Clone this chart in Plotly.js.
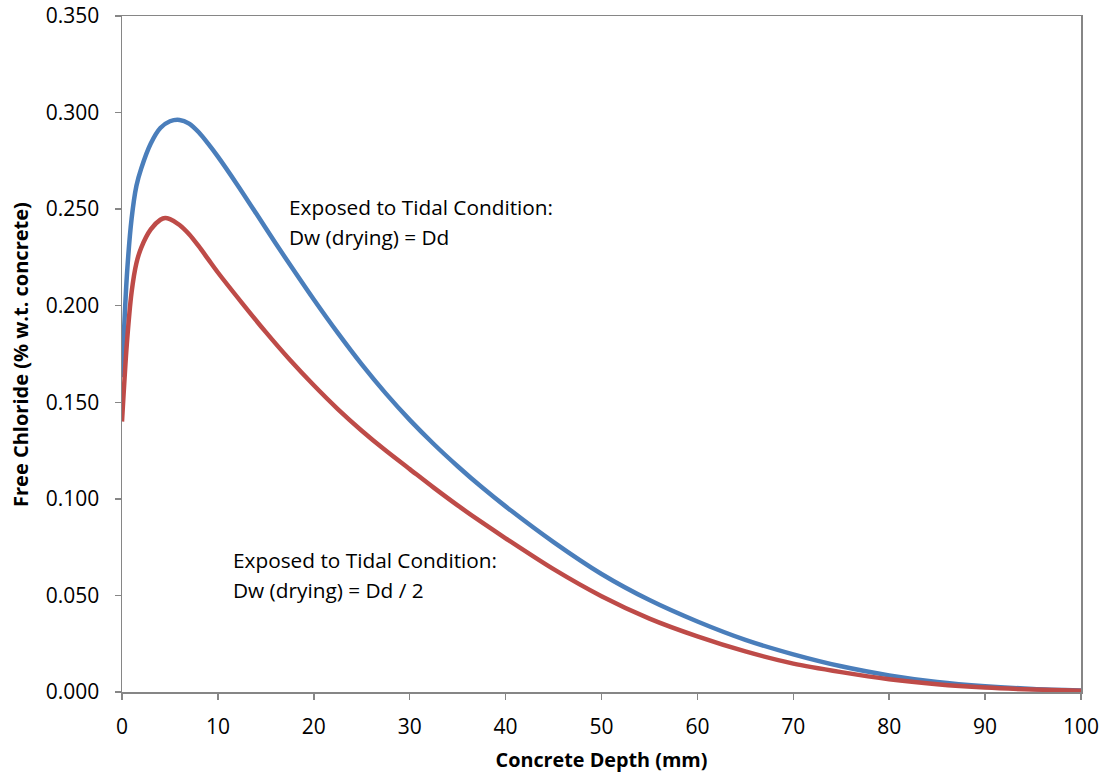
<!DOCTYPE html>
<html>
<head>
<meta charset="utf-8">
<script src="https://cdn.plot.ly/plotly-3.0.1.min.js"></script>
<style>html,body{margin:0;padding:0;background:#fff;}#chart{width:1109px;height:773px;}</style>
</head>
<body>
<div id="chart"></div>
<script>
const depthEqual = [0, 0.5, 1, 1.5, 2, 3, 4, 5, 6, 7, 8, 9, 10, 12, 14, 16, 18, 20, 22.5, 25, 27.5, 30, 32.5, 35, 37.5, 40, 45, 50, 55, 60, 65, 70, 75, 80, 85, 90, 95, 100];
const chlorideEqual = [0.163, 0.215, 0.245, 0.262, 0.271, 0.284, 0.292, 0.2955, 0.2962, 0.2943, 0.2898, 0.2838, 0.2772, 0.2628, 0.2477, 0.2325, 0.2177, 0.2032, 0.1859, 0.1696, 0.1546, 0.1409, 0.1284, 0.1169, 0.1061, 0.0961, 0.0776, 0.0611, 0.0476, 0.0365, 0.027, 0.0195, 0.0133, 0.0086, 0.0052, 0.003, 0.0016, 0.0008];

const depthHalf = [0, 0.5, 1, 1.5, 2, 3, 4, 4.5, 5, 6, 7, 8, 9, 10, 12.5, 15, 17.5, 20, 22.5, 25, 27.5, 30, 32.5, 35, 37.5, 40, 45, 50, 55, 60, 65, 70, 75, 80, 85, 90, 95, 100];
const chlorideHalf = [0.140, 0.180, 0.207, 0.222, 0.230, 0.2395, 0.2445, 0.2454, 0.2448, 0.2418, 0.237, 0.2308, 0.224, 0.2172, 0.2015, 0.1863, 0.172, 0.1588, 0.1465, 0.1353, 0.125, 0.1154, 0.1058, 0.0966, 0.0879, 0.0796, 0.0636, 0.0496, 0.038, 0.0288, 0.021, 0.0147, 0.0103, 0.0066, 0.004, 0.0023, 0.0013, 0.0007];

const xTicks = [0, 10, 20, 30, 40, 50, 60, 70, 80, 90, 100];
const yTicks = [0, 0.05, 0.10, 0.15, 0.20, 0.25, 0.30, 0.35];
const yTickText = ["0.000", "0.050", "0.100", "0.150", "0.200", "0.250", "0.300", "0.350"];

const labelEqual = ["Exposed to Tidal Condition:", "Dw (drying) = Dd"];
const labelHalf = ["Exposed to Tidal Condition:", "Dw (drying) = Dd / 2"];
const xTitle = "Concrete Depth (mm)";
const yTitle = "Free Chloride (% w.t. concrete)";

const font = "Open Sans, Liberation Sans, sans-serif";

const traces = [
  {x: depthEqual, y: chlorideEqual, mode: "lines", line: {color: "#4a7ebb", width: 4.5, shape: "spline", smoothing: 0.8}, hoverinfo: "skip"},
  {x: depthHalf, y: chlorideHalf, mode: "lines", line: {color: "#be4b48", width: 4.5, shape: "spline", smoothing: 0.8}, hoverinfo: "skip"}
];

const axisCommon = {
  showline: true, linecolor: "#868686", linewidth: 1.5, mirror: true,
  ticks: "outside", ticklen: 6, tickcolor: "#868686", tickwidth: 1.5,
  showgrid: false, zeroline: false, tickfont: {family: font, size: 21, color: "#000"}
};

function ann(x, y, text) {
  return {xref: "x", yref: "y", x: x, y: y, xanchor: "left", yanchor: "middle", showarrow: false, align: "left",
          text: text, font: {family: font, size: 20.8, color: "#000"}};
}

const layout = {
  width: 1109, height: 773,
  margin: {l: 122, r: 28, t: 16, b: 81},
  paper_bgcolor: "#fff", plot_bgcolor: "#fff",
  showlegend: false,
  xaxis: Object.assign({}, axisCommon, {
    range: [0, 100], tickvals: xTicks, ticktext: xTicks.map(String),
    ticklabelstandoff: 9,
    title: {text: "<b>" + xTitle + "</b>", font: {family: font, size: 19.8, color: "#000"}, standoff: 17}
  }),
  yaxis: Object.assign({}, axisCommon, {
    range: [0, 0.35], tickvals: yTicks, ticktext: yTickText,
    ticklabelstandoff: 11
  }),
  annotations: [
    ann(17.2, 0.2509, labelEqual[0]),
    ann(17.2, 0.2356, labelEqual[1]),
    ann(11.35, 0.0685, labelHalf[0]),
    ann(11.35, 0.0530, labelHalf[1]),
    {xref: "paper", yref: "paper", x: -0.1064, y: 0.5, xanchor: "center", yanchor: "middle", textangle: -90,
     showarrow: false, text: "<b>" + yTitle + "</b>", font: {family: font, size: 20, color: "#000"}}
  ]
};

Plotly.newPlot("chart", traces, layout, {displayModeBar: false, staticPlot: true});
</script>
</body>
</html>
